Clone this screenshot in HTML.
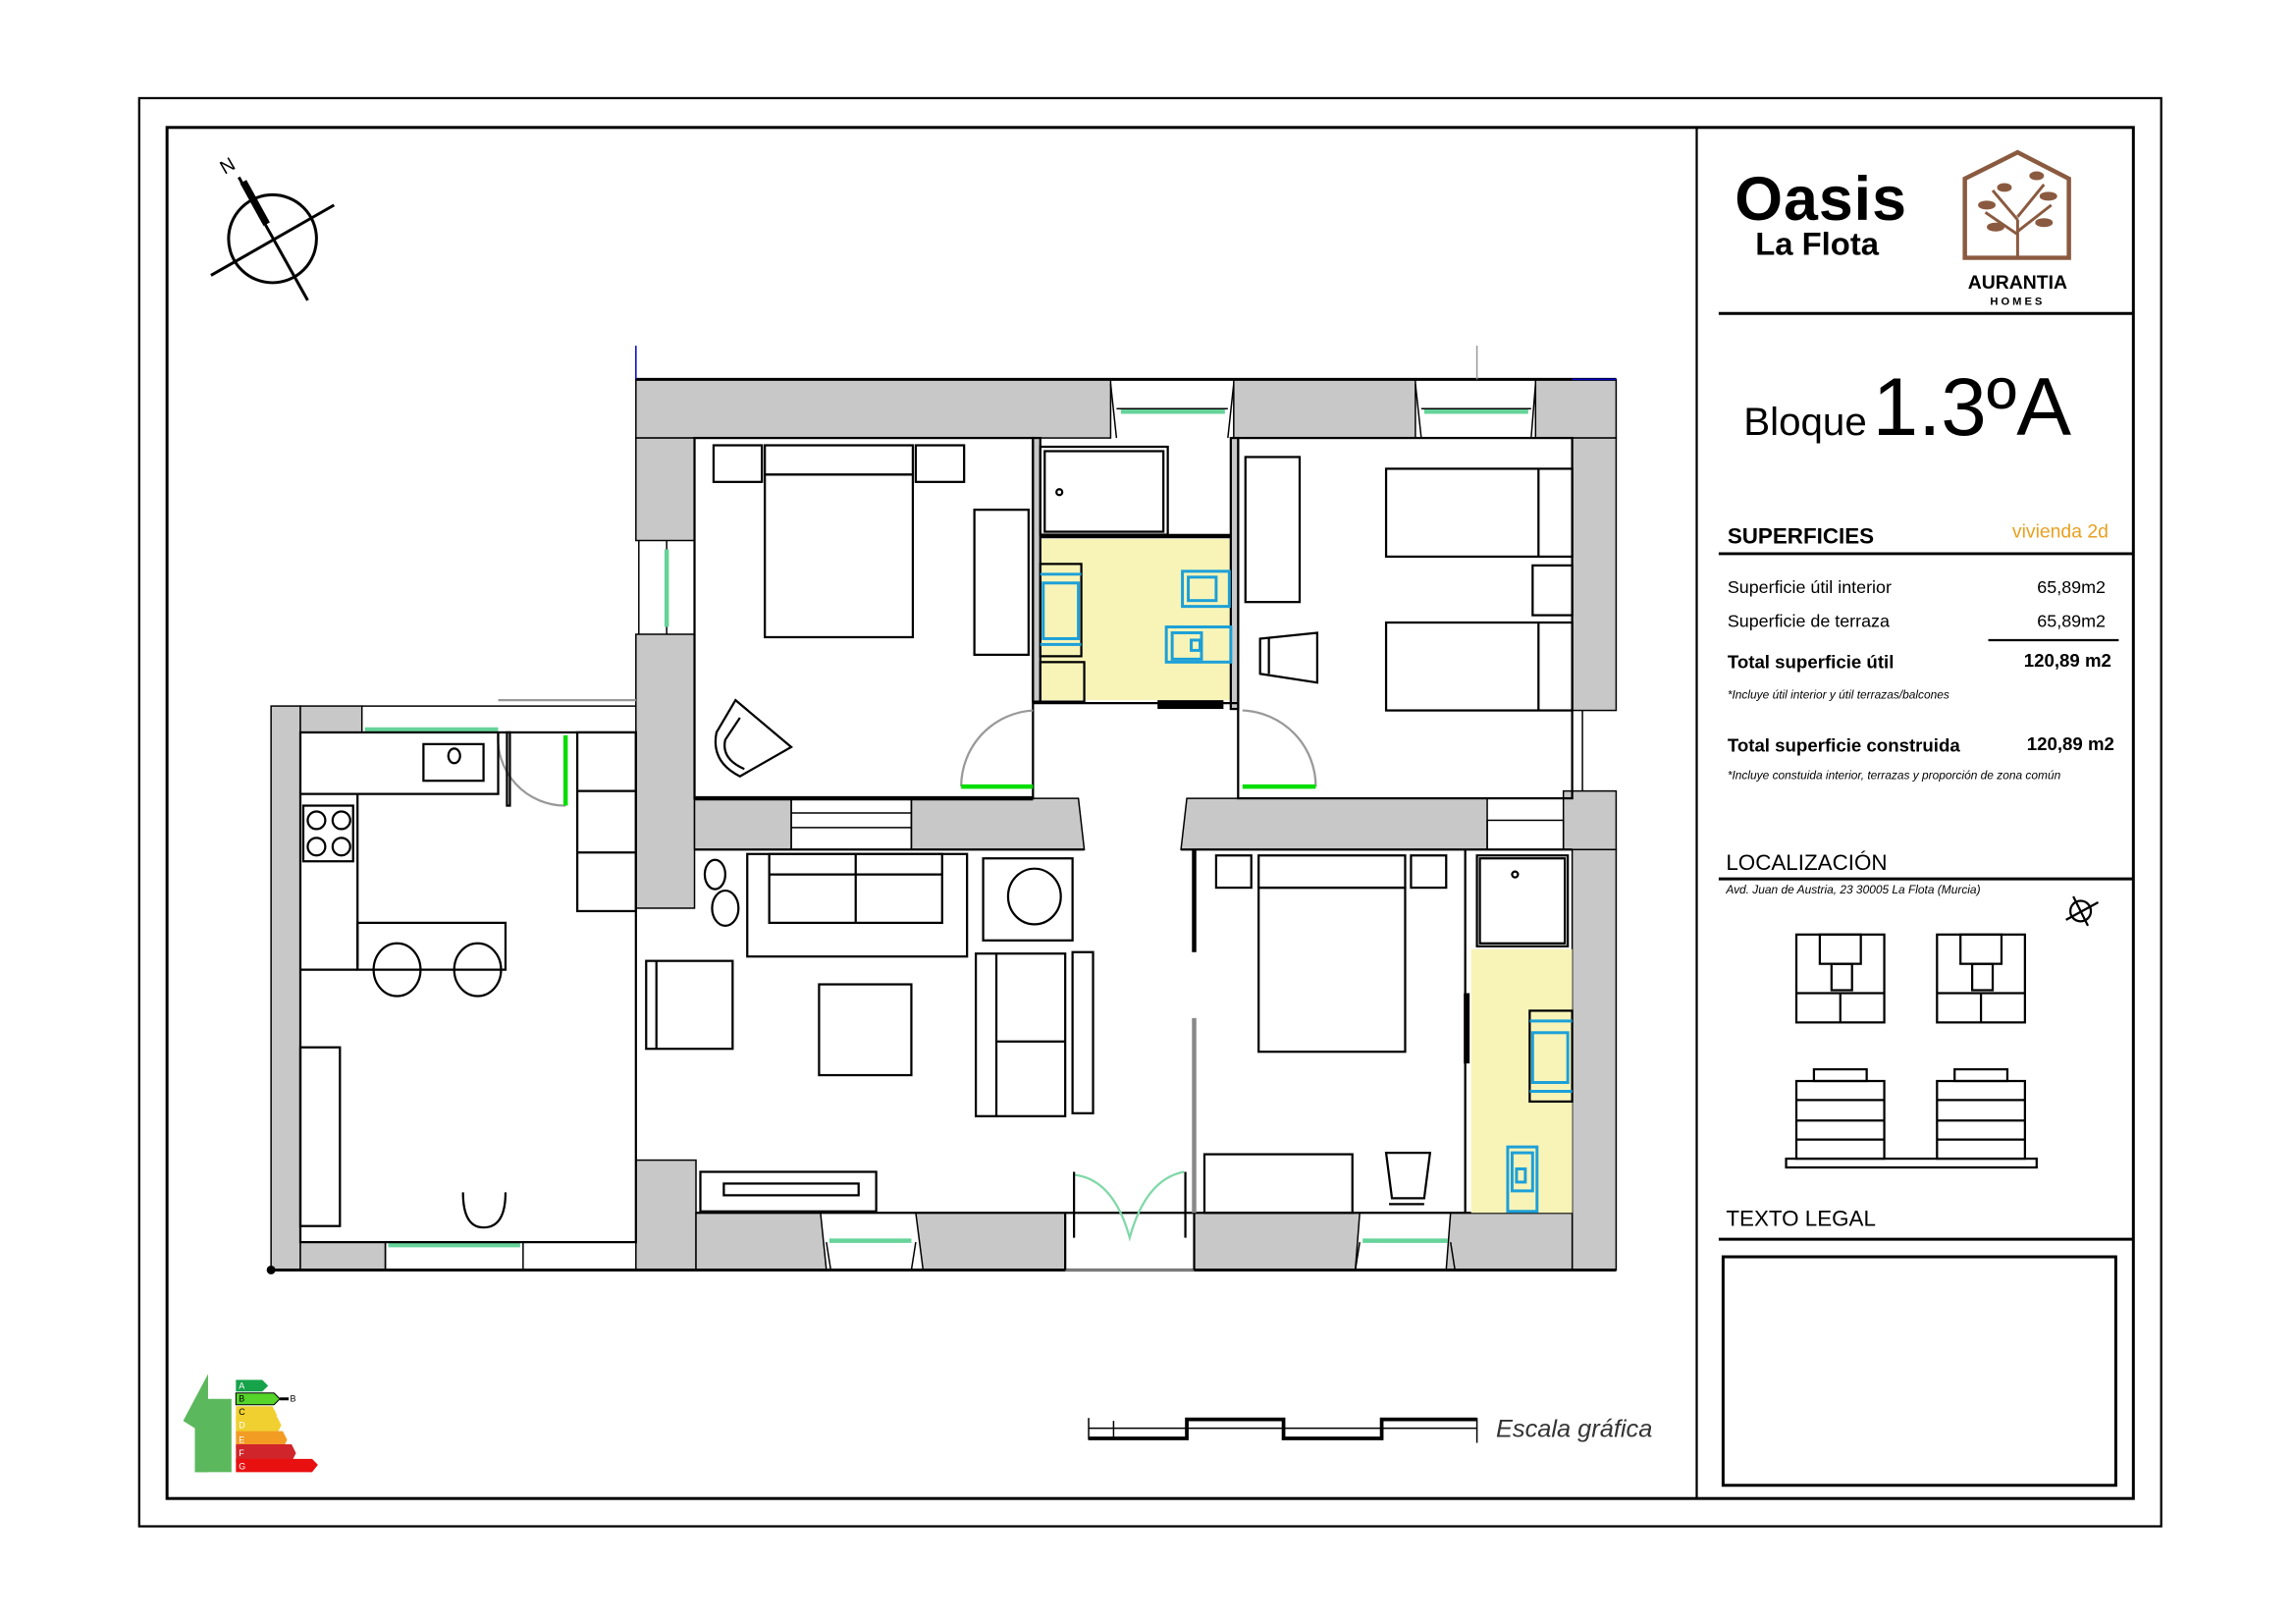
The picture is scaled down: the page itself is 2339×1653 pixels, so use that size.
<!DOCTYPE html>
<html><head><meta charset="utf-8"><style>
html,body{margin:0;padding:0;background:#fff}
svg{display:block}
text{font-family:"Liberation Sans",sans-serif}
</style></head><body>
<svg width="2339" height="1653" viewBox="0 0 1567 1108" preserveAspectRatio="none" xmlns="http://www.w3.org/2000/svg">
<rect x="0" y="0" width="1567" height="1108" fill="#fff"/>
<!-- frames -->
<rect x="95" y="67" width="1380" height="975" fill="none" stroke="#000" stroke-width="1.5"/>
<rect x="114" y="87" width="1342" height="936" fill="none" stroke="#000" stroke-width="2"/>
<line x1="1158" y1="87" x2="1158" y2="1023" stroke="#000" stroke-width="1.5"/>

<!-- title block -->
<text x="1184" y="150" font-size="42" font-weight="bold" textLength="117">Oasis</text>
<text x="1198" y="174" font-size="22" font-weight="bold">La Flota</text>
<g fill="none" stroke="#8a5a40" stroke-width="3">
<path d="M1341 176 V122 L1377 104 L1412 122 V176 Z"/>
</g>
<g stroke="#8a5a40" stroke-width="2" fill="#8a5a40">
<path d="M1377 176 V150 M1377 160 L1355 145 M1377 158 L1400 140 M1377 150 L1360 130 M1377 148 L1395 126" fill="none"/>
<ellipse cx="1356" cy="140" rx="5" ry="2"/><ellipse cx="1398" cy="134" rx="5" ry="2"/><ellipse cx="1362" cy="155" rx="5" ry="2"/><ellipse cx="1395" cy="152" rx="5" ry="2"/><ellipse cx="1368" cy="128" rx="4" ry="2"/><ellipse cx="1390" cy="120" rx="4" ry="2"/>
</g>
<text x="1377" y="197" font-size="13" font-weight="bold" text-anchor="middle">AURANTIA</text>
<text x="1377" y="208" font-size="7.5" font-weight="bold" text-anchor="middle" letter-spacing="2">HOMES</text>
<line x1="1173" y1="214" x2="1456" y2="214" stroke="#000" stroke-width="2"/>
<text x="1190" y="297" font-size="27">Bloque</text>
<text x="1278" y="297" font-size="56">1.3ºA</text>
<text x="1179" y="371" font-size="15" font-weight="bold">SUPERFICIES</text>
<text x="1439" y="367" font-size="13" fill="#e8a020" text-anchor="end">vivienda 2d</text>
<line x1="1173" y1="378" x2="1456" y2="378" stroke="#000" stroke-width="2"/>
<text x="1179" y="405" font-size="12">Superficie útil interior</text>
<text x="1437" y="405" font-size="12" text-anchor="end">65,89m2</text>
<text x="1179" y="428" font-size="12">Superficie de terraza</text>
<text x="1437" y="428" font-size="12" text-anchor="end">65,89m2</text>
<line x1="1357" y1="437" x2="1446" y2="437" stroke="#000" stroke-width="1.5"/>
<text x="1179" y="456" font-size="12.5" font-weight="bold">Total superficie útil</text>
<text x="1441" y="455" font-size="12.5" font-weight="bold" text-anchor="end">120,89 m2</text>
<text x="1179" y="477" font-size="8" font-style="italic">*Incluye útil interior y útil terrazas/balcones</text>
<text x="1179" y="513" font-size="12.5" font-weight="bold">Total superficie construida</text>
<text x="1443" y="512" font-size="12.5" font-weight="bold" text-anchor="end">120,89 m2</text>
<text x="1179" y="532" font-size="8" font-style="italic">*Incluye constuida interior, terrazas y proporción de zona común</text>
<text x="1178" y="594" font-size="15">LOCALIZACIÓN</text>
<line x1="1173" y1="600" x2="1456" y2="600" stroke="#000" stroke-width="2"/>
<text x="1178" y="610" font-size="8" font-style="italic">Avd. Juan de Austria, 23 30005 La Flota (Murcia)</text>
<g stroke="#000" fill="none" stroke-width="1.5">
<circle cx="1420" cy="622" r="7"/><line x1="1410" y1="628" x2="1432" y2="616"/><line x1="1415" y1="612" x2="1425" y2="632"/>
<rect x="1226" y="638" width="60" height="60"/><rect x="1242" y="638" width="28" height="20"/><rect x="1250" y="658" width="14" height="18"/><line x1="1226" y1="678" x2="1286" y2="678"/><line x1="1256" y1="678" x2="1256" y2="698"/>
<rect x="1322" y="638" width="60" height="60"/><rect x="1338" y="638" width="28" height="20"/><rect x="1346" y="658" width="14" height="18"/><line x1="1322" y1="678" x2="1382" y2="678"/><line x1="1352" y1="678" x2="1352" y2="698"/>
<rect x="1226" y="738" width="60" height="53"/><rect x="1238" y="730" width="36" height="8"/><line x1="1226" y1="751" x2="1286" y2="751"/><line x1="1226" y1="765" x2="1286" y2="765"/><line x1="1226" y1="778" x2="1286" y2="778"/>
<rect x="1322" y="738" width="60" height="53"/><rect x="1334" y="730" width="36" height="8"/><line x1="1322" y1="751" x2="1382" y2="751"/><line x1="1322" y1="765" x2="1382" y2="765"/><line x1="1322" y1="778" x2="1382" y2="778"/>
<rect x="1219" y="791" width="171" height="6"/>
</g>
<text x="1178" y="837" font-size="15">TEXTO LEGAL</text>
<line x1="1173" y1="846" x2="1456" y2="846" stroke="#000" stroke-width="2"/>
<rect x="1176" y="858" width="268" height="156" fill="none" stroke="#000" stroke-width="2"/>

<!-- north -->
<g stroke="#000" fill="none" stroke-width="2">
<circle cx="186" cy="163" r="30"/>
<line x1="144" y1="188" x2="228" y2="140"/>
<line x1="163" y1="121" x2="210" y2="205"/>
<line x1="166" y1="124" x2="182" y2="153" stroke-width="5"/>
</g>
<text x="150" y="117" font-size="13" transform="rotate(-30 156 112)">N</text>

<!-- walls -->
<g fill="#c8c8c8" stroke="#000" stroke-width="1">
<rect x="434" y="259" width="324" height="40"/>
<rect x="842" y="259" width="124" height="40"/>
<rect x="1048" y="259" width="55" height="40"/>
<rect x="434" y="299" width="40" height="70"/>
<rect x="434" y="433" width="40" height="187"/>
<rect x="1073" y="299" width="30" height="186"/>
<rect x="474" y="545" width="66" height="35"/>
<path d="M622 545 H736 L740 580 H622 Z"/>
<path d="M810 545 H1015 V580 H806 Z"/>
<rect x="1067" y="540" width="36" height="40"/>
<rect x="1073" y="580" width="30" height="287"/>
<rect x="185" y="482" width="20" height="385"/>
<rect x="205" y="482" width="42" height="18"/>
<rect x="205" y="848" width="58" height="19"/>
<rect x="434" y="792" width="41" height="75"/>
<path d="M475 828 H560 L564 867 H475 Z"/>
<path d="M625 828 H727 V867 H630 Z"/>
<path d="M815 828 H928 L925 867 H815 Z"/>
<path d="M990 828 H1073 V867 H987 Z"/>
</g>
<!-- window lines -->
<g stroke="#000" stroke-width="1" fill="none">
<line x1="434" y1="259" x2="1103" y2="259" stroke-width="2"/>
<line x1="185" y1="867" x2="1103" y2="867" stroke-width="2"/>
<line x1="434" y1="236" x2="434" y2="259" stroke="#0000cc"/>
<line x1="1073" y1="259" x2="1103" y2="259" stroke="#0000cc"/>
<line x1="1008" y1="236" x2="1008" y2="259" stroke="#999"/>
<path d="M758 262 L762 299 M842 262 L838 299 M966 262 L970 299 M1048 262 L1045 299"/>
<line x1="762" y1="279" x2="838" y2="279"/><line x1="970" y1="279" x2="1045" y2="279"/>
<line x1="436" y1="369" x2="436" y2="433"/><line x1="455" y1="369" x2="455" y2="433"/>
<rect x="540" y="545" width="82" height="35"/><line x1="540" y1="555" x2="622" y2="555"/><line x1="540" y1="565" x2="622" y2="565"/>
<rect x="1015" y="560" width="52" height="20"/>
<line x1="1080" y1="485" x2="1080" y2="540"/>
<line x1="247" y1="482" x2="434" y2="482"/>
<rect x="263" y="848" width="94" height="19"/>
<path d="M564 848 L567 867 M625 848 L622 867 M928 848 L925 867 M990 848 L993 867"/>
</g>
<g stroke="#66d39a" stroke-width="3">
<line x1="765" y1="281" x2="836" y2="281"/><line x1="972" y1="281" x2="1043" y2="281"/>
<line x1="455" y1="375" x2="455" y2="428"/>
<line x1="249" y1="498" x2="340" y2="498"/>
<line x1="265" y1="850" x2="355" y2="850"/>
<line x1="566" y1="847" x2="622" y2="847"/><line x1="930" y1="847" x2="988" y2="847"/>
</g>
<!-- rooms outlines -->
<g stroke="#000" stroke-width="1.5" fill="none">
<rect x="474" y="299" width="231" height="246"/>
<line x1="474" y1="545" x2="705" y2="545" stroke-width="3"/>
<rect x="845" y="299" width="228" height="246"/>
<rect x="205" y="500" width="229" height="348"/>
<line x1="474" y1="580" x2="740" y2="580"/>
<line x1="806" y1="580" x2="1073" y2="580"/>
<line x1="727" y1="828" x2="815" y2="828"/>
<line x1="475" y1="828" x2="727" y2="828"/>
<line x1="815" y1="828" x2="1073" y2="828"/>
</g>
<!-- bath 1 -->
<rect x="710" y="368" width="131" height="110" fill="#f8f4b8"/>
<g stroke="#000" stroke-width="1.5" fill="none">
<rect x="705" y="299" width="5" height="180" fill="#c8c8c8"/>
<rect x="840" y="299" width="5" height="185" fill="#c8c8c8"/>
<rect x="710" y="305" width="87" height="60"/><rect x="713" y="308" width="81" height="55"/>
<circle cx="723" cy="336" r="2"/>
<line x1="710" y1="366" x2="840" y2="366" stroke-width="3"/>
<line x1="705" y1="480" x2="845" y2="480"/>
<rect x="710" y="452" width="30" height="27"/>
<rect x="710" y="385" width="28" height="63"/>
</g>
<rect x="790" y="478" width="45" height="6" fill="#000"/>
<g stroke="#1da0d8" stroke-width="2" fill="none">
<rect x="712" y="398" width="24" height="38"/><line x1="710" y1="392" x2="738" y2="392"/><line x1="710" y1="440" x2="738" y2="440"/>
<rect x="807" y="390" width="32" height="24"/><rect x="811" y="394" width="19" height="16"/>
<rect x="796" y="428" width="44" height="24"/><rect x="800" y="432" width="20" height="18"/><rect x="813" y="437" width="6" height="7"/>
</g>
<!-- doors -->
<g fill="none" stroke="#999" stroke-width="1.5">
<path d="M656 537 A52 52 0 0 1 705 485"/>
<path d="M898 537 A52 52 0 0 0 848 485"/>
<path d="M340 478 H434"/>
<path d="M340 500 A46 46 0 0 0 386 550"/>
<path d="M727 867 H815" stroke="#999"/>
</g>
<g stroke="#00dd00" stroke-width="3">
<line x1="656" y1="537" x2="705" y2="537"/><line x1="848" y1="537" x2="898" y2="537"/>
<line x1="386" y1="502" x2="386" y2="550"/>
</g>
<g fill="none" stroke="#80d8a8" stroke-width="1.5">
<path d="M733 802 Q760 805 771 845 Q782 805 808 800"/>
</g>
<g stroke="#000" stroke-width="1.5">
<line x1="733" y1="800" x2="733" y2="845"/><line x1="809" y1="800" x2="809" y2="845"/>
<line x1="727" y1="828" x2="727" y2="867"/><line x1="815" y1="828" x2="815" y2="867"/>
</g>
<!-- bedroom 1 furniture -->
<g stroke="#000" stroke-width="1.5" fill="none">
<rect x="487" y="304" width="33" height="25"/><rect x="522" y="304" width="101" height="20"/><rect x="625" y="304" width="33" height="25"/>
<rect x="522" y="324" width="101" height="111"/>
<rect x="665" y="348" width="37" height="99"/>
<path d="M502 478 L489 500 Q485 520 505 530 L540 510 Z"/><path d="M505 490 L495 505 Q492 518 508 525"/>
</g>
<!-- bedroom 2 furniture -->
<g stroke="#000" stroke-width="1.5" fill="none">
<rect x="850" y="312" width="37" height="99"/>
<rect x="946" y="320" width="127" height="60"/><line x1="1050" y1="320" x2="1050" y2="380"/>
<rect x="1046" y="386" width="27" height="34"/>
<rect x="946" y="425" width="127" height="60"/><line x1="1050" y1="425" x2="1050" y2="485"/>
<path d="M860 436 L899 432 V466 L860 460 Z"/><line x1="866" y1="436" x2="866" y2="460"/>
</g>
<!-- kitchen -->
<g stroke="#000" stroke-width="1.5" fill="none">
<path d="M205 542 H244 V660"/><path d="M244 542 H340 V500"/>
<rect x="289" y="508" width="41" height="25"/><ellipse cx="310" cy="516" rx="4" ry="5"/>
<rect x="207" y="550" width="34" height="38"/>
<circle cx="216" cy="560" r="6"/><circle cx="233" cy="560" r="6"/><circle cx="216" cy="578" r="6"/><circle cx="233" cy="578" r="6"/>
<rect x="244" y="630" width="101" height="32"/><line x1="205" y1="662" x2="244" y2="662"/>
<ellipse cx="271" cy="662" rx="16" ry="18"/><ellipse cx="326" cy="662" rx="16" ry="18"/>
<rect x="205" y="715" width="27" height="122"/>
<path d="M316 814 Q316 838 330 838 Q345 838 345 814"/>
<rect x="394" y="500" width="40" height="122"/><line x1="394" y1="540" x2="434" y2="540"/><line x1="394" y1="582" x2="434" y2="582"/>
<rect x="346" y="500" width="2" height="50"/>
</g>
<!-- living -->
<g stroke="#000" stroke-width="1.5" fill="none">
<ellipse cx="488" cy="597" rx="7" ry="10"/><ellipse cx="495" cy="620" rx="9" ry="12"/>
<rect x="510" y="583" width="150" height="70"/><rect x="525" y="583" width="118" height="47"/><line x1="525" y1="597" x2="643" y2="597"/><line x1="584" y1="583" x2="584" y2="630"/>
<rect x="671" y="586" width="61" height="56"/><ellipse cx="706" cy="612" rx="18" ry="19"/>
<rect x="441" y="656" width="59" height="60"/><line x1="448" y1="656" x2="448" y2="716"/>
<rect x="559" y="672" width="63" height="62"/>
<rect x="666" y="651" width="61" height="111"/><line x1="680" y1="651" x2="680" y2="762"/><line x1="680" y1="711" x2="727" y2="711"/>
<rect x="732" y="650" width="14" height="110"/>
<rect x="478" y="800" width="120" height="27"/><rect x="494" y="808" width="92" height="8"/>
</g>
<!-- bedroom 3 -->
<g stroke="#000" stroke-width="1.5" fill="none">
<line x1="815" y1="580" x2="815" y2="650" stroke-width="3"/>
<line x1="815" y1="695" x2="815" y2="828" stroke="#888" stroke-width="3"/>
<rect x="830" y="584" width="24" height="22"/><rect x="859" y="584" width="100" height="22"/><rect x="963" y="584" width="24" height="22"/>
<rect x="859" y="606" width="100" height="112"/>
<rect x="822" y="788" width="101" height="40"/>
<path d="M946 787 H976 L972 818 H950 Z"/><line x1="948" y1="822" x2="972" y2="822"/>
<line x1="1000" y1="580" x2="1000" y2="828"/>
<rect x="1008" y="584" width="62" height="62"/><rect x="1010" y="586" width="58" height="58"/>
<circle cx="1034" cy="597" r="2"/>
</g>
<rect x="1004" y="648" width="69" height="180" fill="#f8f4b8"/>
<rect x="999" y="678" width="4" height="48" fill="#000"/>
<g stroke="#000" stroke-width="1.5" fill="none"><rect x="1044" y="690" width="29" height="62"/></g>
<g stroke="#1da0d8" stroke-width="2" fill="none">
<rect x="1046" y="705" width="24" height="34"/><line x1="1044" y1="697" x2="1073" y2="697"/><line x1="1044" y1="745" x2="1073" y2="745"/>
<rect x="1029" y="783" width="20" height="44"/><rect x="1032" y="787" width="14" height="26"/><rect x="1035" y="798" width="6" height="9"/>
</g>
<circle cx="185" cy="867" r="3" fill="#000"/>

<!-- energy label -->
<path d="M133 1005 V975 L125 970 L142 938 V1005 Z" fill="#5cb85c"/>
<rect x="133" y="955" width="25" height="50" fill="#5cb85c"/>
<g font-size="6" fill="#fff">
<path d="M161 942 h18 l4 4 l-4 4 h-18z" fill="#16a34a"/>
<path d="M161 951 h26 l4 4 l-4 4 h-26z" fill="#55d42a" stroke="#000" stroke-width="0.7"/>
<path d="M161 960 h25 l3 6 l-3 6 h-25z" fill="#f0d030"/>
<path d="M161 967 h28 l3 6 l-3 6 h-28z" fill="#f0d030"/>
<path d="M161 977 h32 l3 6 l-3 6 h-32z" fill="#f29c24"/>
<path d="M161 986 h38 l3 6 l-3 6 h-38z" fill="#d0252a"/>
<path d="M161 996 h52 l4 4 l-4 5 h-52z" fill="#e81010"/>
<text x="163" y="948">A</text><text x="163" y="957" fill="#000">B</text><text x="163" y="966" fill="#000">C</text><text x="163" y="975">D</text><text x="163" y="985">E</text><text x="163" y="994">F</text><text x="163" y="1003">G</text>
<line x1="191" y1="955" x2="197" y2="955" stroke="#000" stroke-width="2"/><text x="198" y="957" fill="#000">B</text>
</g>
<!-- scale -->
<g stroke="#000" fill="none">
<path d="M743 968 V983 M743 975 H1008 M760 970 V983 M1008 968 V985" stroke-width="1"/>
<path d="M743 982 H810 V969 H876 V982 H943 V969 H1008" stroke-width="2.5"/>
</g>
<text x="1021" y="981" font-size="17" font-style="italic" fill="#333" font-family="Liberation Serif, serif">Escala gráfica</text>
</svg>
</body></html>
